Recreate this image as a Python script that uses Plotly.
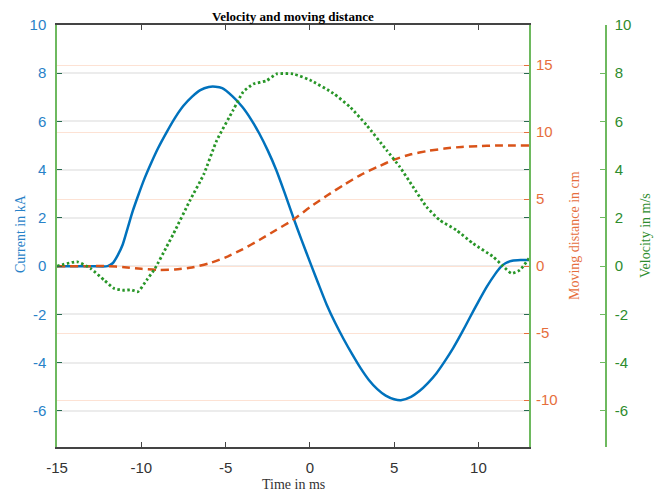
import plotly.graph_objects as go

# Current (kA) vs time (ms)
t_cur = [-15, -13, -12.0, -11.7, -11.4, -11.1, -10.8, -10.5, -10.2, -9.8, -9.4, -9.0, -8.5, -8.0,
         -7.5, -7.0, -6.5, -6.0, -5.6, -5.2, -4.6, -4.0, -3.5, -3.0, -2.5, -2.0, -1.5, -1.0, -0.5,
         0.1, 0.5, 1.0, 1.5, 2.0, 2.5, 3.0, 3.5, 4.0, 4.5, 5.0, 5.4, 6.0, 6.5, 7.0, 7.5, 8.0, 8.5,
         9.0, 9.5, 10.0, 10.5, 11.0, 11.3, 11.6, 12.0, 12.5, 13]
current = [0, 0, 0, 0.12, 0.45, 0.9, 1.6, 2.3, 2.9, 3.65, 4.3, 4.9, 5.55, 6.15,
           6.65, 7.02, 7.3, 7.43, 7.44, 7.38, 7.05, 6.6, 6.1, 5.5, 4.8, 4.0, 3.05, 2.05, 1.1,
           0.0, -0.72, -1.6, -2.35, -3.02, -3.64, -4.22, -4.72, -5.1, -5.37, -5.52, -5.56, -5.42,
           -5.18, -4.85, -4.45, -3.95, -3.4, -2.78, -2.12, -1.47, -0.85, -0.32, -0.05, 0.12, 0.22,
           0.25, 0.25]

# Moving distance (cm) vs time (ms)
t_dist = [-15, -13, -12, -11, -10, -9, -8, -7, -6, -5, -4, -3, -2, -1, 0, 1, 2, 3, 4, 5, 6, 7,
          8, 9, 10, 11, 12, 13]
distance = [0, 0, 0, -0.08, -0.2, -0.28, -0.25, -0.1, 0.2, 0.65, 1.25, 1.95, 2.7, 3.45, 4.4,
            5.25, 6.05, 6.8, 7.4, 7.95, 8.35, 8.6, 8.78, 8.9, 8.96, 9.0, 9.0, 9.0]

# Velocity (m/s) vs time (ms)
t_vel = [-15, -13.8, -13.0, -12.2, -11.6, -11.0, -10.6, -10.2, -9.68, -9.19, -8.5, -8.08, -7.1,
         -6.3, -5.53, -4.55, -3.95, -3.36, -2.57, -1.97, -0.99, 0.0, 1.38, 2.37, 3.36, 4.55,
         5.33, 6.12, 6.92, 7.7, 8.7, 9.68, 10.87, 11.46, 11.96, 12.45, 13]
velocity = [0, 0.18, -0.1, -0.58, -0.93, -1.0, -0.98, -1.06, -0.58, -0.1, 0.8, 1.36, 2.74,
            3.8, 5.2, 6.47, 7.23, 7.55, 7.69, 7.97, 7.97, 7.72, 7.17, 6.61, 5.85, 4.81,
            4.12, 3.29, 2.46, 1.91, 1.49, 0.94, 0.39, 0.0, -0.3, -0.17, 0.32]

x_ticks = [-15, -10, -5, 0, 5, 10]
cur_ticks = [-6, -4, -2, 0, 2, 4, 6, 8, 10]
dist_ticks = [-10, -5, 0, 5, 10, 15]
vel_ticks = [-6, -4, -2, 0, 2, 4, 6, 8, 10]


def labels(vals):
    return [str(v) for v in vals]


BLUE = "rgb(0,114,189)"
BLUE_TXT = "rgb(40,130,200)"
ORANGE = "rgb(217,83,25)"
ORANGE_TXT = "rgb(230,110,60)"
GREEN = "rgb(40,150,40)"
GREEN_TXT = "rgb(45,140,45)"
GREEN_AX = "rgb(110,185,95)"

# the page body adds an 8px offset; compensate so the picture lands at the target spots
OFF = 8
W, H = 666 - OFF, 493 - OFF
LEFT, RIGHT, TOP, BOTTOM, AX3 = 57 - OFF, 529 - OFF, 25 - OFF, 447 - OFF, 606 - OFF
ML, MT = LEFT, TOP
MR = 20
MB = H - BOTTOM
pw = W - ML - MR
x_end = (RIGHT - ML) / pw
y3_pos = (AX3 - ML) / pw

fig = go.Figure()
fig.add_trace(go.Scatter(x=t_cur, y=current, mode="lines",
                         line=dict(color=BLUE, width=2.5, shape="spline", smoothing=0.6),
                         yaxis="y", showlegend=False))
fig.add_trace(go.Scatter(x=t_dist, y=distance, mode="lines",
                         line=dict(color=ORANGE, width=2.5, dash="8px,5px", shape="spline", smoothing=0.6),
                         yaxis="y2", showlegend=False))
fig.add_trace(go.Scatter(x=t_vel, y=velocity, mode="lines",
                         line=dict(color=GREEN, width=2.8, dash="2.5px,2.5px", shape="spline", smoothing=0.5),
                         yaxis="y3", showlegend=False))

tickfont = dict(family="Liberation Sans, Arial, sans-serif", size=15)
serif = "Liberation Serif, Times New Roman, serif"

fig.update_layout(
    width=W, height=H,
    margin=dict(l=ML, r=MR, t=MT, b=MB, autoexpand=False),
    paper_bgcolor="white", plot_bgcolor="white",
    xaxis=dict(domain=[0, x_end], range=[-15, 13], tickvals=x_ticks, ticktext=labels(x_ticks),
               ticks="inside", ticklen=5, tickcolor="#444", showline=True, linecolor="#444",
               linewidth=1.5, mirror="ticks", showgrid=False, zeroline=False, automargin=False,
               ticklabelstandoff=6, tickfont=dict(color="#333", **tickfont)),
    yaxis=dict(range=[-7.5, 10], tickvals=cur_ticks, ticktext=labels(cur_ticks), ticks="inside",
               ticklen=5, tickcolor="#2a6a50", showline=True, linecolor=GREEN_AX, linewidth=1.5,
               mirror="ticks", showgrid=True, gridcolor="rgb(236,236,236)", gridwidth=1.5,
               zeroline=False, automargin=False, ticklabelstandoff=6,
               tickfont=dict(color=BLUE_TXT, **tickfont)),
    yaxis2=dict(range=[-13.5, 18], tickvals=dist_ticks, ticktext=labels(dist_ticks), overlaying="y",
                side="right", anchor="x", ticks="inside", ticklen=5, tickcolor=ORANGE_TXT,
                showline=False, showgrid=True, gridcolor="rgb(253,226,212)", gridwidth=1,
                zeroline=False, automargin=False, ticklabelstandoff=6,
                tickfont=dict(color=ORANGE_TXT, **tickfont)),
    yaxis3=dict(range=[-7.5, 10], tickvals=vel_ticks, ticktext=labels(vel_ticks), overlaying="y",
                side="right", anchor="free", position=y3_pos, ticks="inside", ticklen=5,
                tickcolor=GREEN_AX, showline=True, linecolor=GREEN_AX, linewidth=1.5,
                showgrid=False, zeroline=False, automargin=False, ticklabelstandoff=5,
                tickfont=dict(color=GREEN_TXT, **tickfont)),
    annotations=[
        dict(text="<b>Velocity and moving distance</b>", xref="paper", yref="paper",
             x=x_end / 2, y=1, yshift=9, xanchor="center", yanchor="middle", showarrow=False,
             font=dict(family=serif, size=13, color="black")),
        dict(text="Time in ms", xref="paper", yref="paper", x=x_end / 2, y=0, yshift=-37,
             xanchor="center", yanchor="middle", showarrow=False,
             font=dict(family=serif, size=14, color="#333")),
        dict(text="Current in kA", xref="paper", yref="paper", x=0, xshift=-37, y=0.5, yshift=2,
             xanchor="center", yanchor="middle", textangle=-90, showarrow=False,
             font=dict(family=serif, size=14, color=BLUE_TXT)),
        dict(text="Moving distance in cm", xref="paper", yref="paper", x=x_end, xshift=45,
             y=0.5, xanchor="center", yanchor="middle", textangle=-90, showarrow=False,
             font=dict(family=serif, size=14, color=ORANGE_TXT)),
        dict(text="Velocity in m/s", xref="paper", yref="paper", x=y3_pos, xshift=39,
             y=0.5, xanchor="center", yanchor="middle", textangle=-90, showarrow=False,
             font=dict(family=serif, size=14, color=GREEN_TXT)),
    ],
)

fig.write_html("out.html")
